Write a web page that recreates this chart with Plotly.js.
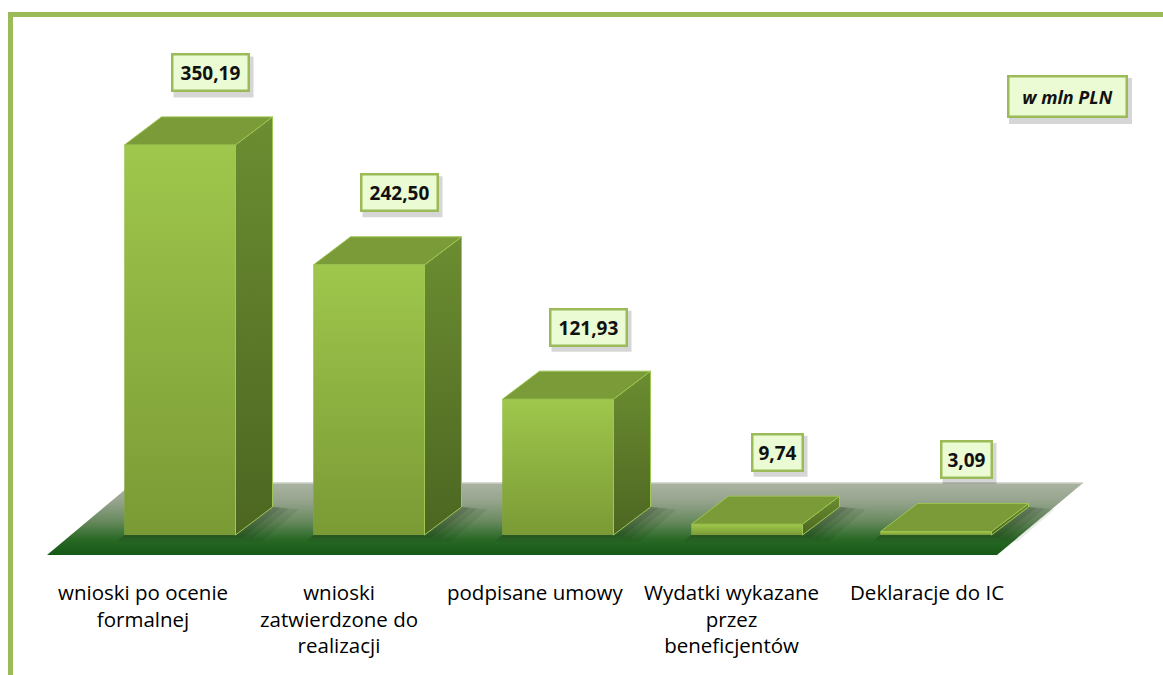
<!DOCTYPE html>
<html>
<head>
<meta charset="utf-8">
<script src="https://cdn.plot.ly/plotly-3.0.1.min.js"></script>
<style>
html,body{margin:0;padding:0;background:#fff;}
#chart{width:1163px;height:675px;}
</style>
</head>
<body>
<div id="chart"></div>
<script>
// ---- data ----
const categories = [
  'wnioski po ocenie<br>formalnej',
  'wnioski<br>zatwierdzone do<br>realizacji',
  'podpisane umowy',
  'Wydatki wykazane<br>przez<br>beneficjentów',
  'Deklaracje do IC'
];
const values = [350.19, 242.50, 121.93, 9.74, 3.09];
const valueLabels = ['350,19', '242,50', '121,93', '9,74', '3,09'];
const unitLabel = 'w mln PLN';

// ---- layout geometry (pixels) ----
const W = 1163, H = 675;
const PXX = 189;          // px per category step
const X_FIRST = 180;      // px of first bar centre
const PXY = 1.114;        // px per value unit
const BASE_PX = 535;      // px of value 0
const X0 = -X_FIRST / PXX, X1 = X0 + W / PXX;
const Y1 = BASE_PX / PXY, Y0 = Y1 - H / PXY;
const xd = px => X0 + px / PXX;
const yd = py => Y1 - py / PXY;
const BW = 111 / PXX;     // bar width
const DX = 37 / PXX;      // depth offset x
const DY = 28 / PXY;      // depth offset y

const traces = [];

// floor (main subplot, below bars)
const fl = [[47,555],[997,555],[1083,483],[133,483],[47,555]];
traces.push({
  type:'scatter', mode:'lines', xaxis:'x', yaxis:'y',
  x: fl.map(p=>xd(p[0])), y: fl.map(p=>yd(p[1])),
  fill:'toself', fillcolor:'#4f7a45',
  fillgradient:{type:'vertical', start:yd(555), stop:yd(483),
    colorscale:[[0,'#165816'],[0.22,'#2a6926'],[0.48,'#6a8b60'],[0.75,'#96a48d'],[1,'#aab3a2']]},
  line:{width:0, color:'rgba(0,0,0,0)'}, hoverinfo:'skip', showlegend:false
});
// back edge highlight of floor
traces.push({
  type:'scatter', mode:'lines', xaxis:'x', yaxis:'y',
  x:[xd(133), xd(1083)], y:[yd(483), yd(483)],
  line:{width:1.5, color:'#c9cfc4'}, hoverinfo:'skip', showlegend:false
});

// soft shadows on the floor, right of each bar and below its front edge
values.forEach((v,i)=>{
  const xl = i - BW/2, xr = i + BW/2;
  [[26,0.09],[16,0.11],[8,0.13]].forEach(([e,o])=>{
    const ex = e / PXX, ey = e / PXY;
    traces.push({
      type:'scatter', mode:'lines', xaxis:'x', yaxis:'y',
      x:[xl-ex*0.3, xr+ex, xr+DX+ex, xr+DX, xl, xl-ex*0.3],
      y:[-ey*0.25, -ey*0.25, DY-ey*0.1, DY, 0, -ey*0.25],
      fill:'toself', fillcolor:'rgba(15,35,10,'+o+')',
      line:{width:0,color:'rgba(0,0,0,0)'}, hoverinfo:'skip', showlegend:false
    });
  });
});

// front faces as bars (overlay subplot)
traces.push({
  type:'bar', xaxis:'x2', yaxis:'y2',
  x: values.map((v,i)=>i), y: values, width: BW, base: 0,
  marker:{color:'#8cb343', line:{width:0}},
  hoverinfo:'skip', showlegend:false
});

values.forEach((v,i)=>{
  const xl = i - BW/2, xr = i + BW/2;
  traces.push({
    type:'scatter', mode:'lines', xaxis:'x2', yaxis:'y2',
    x:[xl,xr,xr,xl,xl], y:[0,0,v,v,0],
    fill:'toself', fillcolor:'#8cb343',
    fillgradient:{type:'vertical', colorscale:[[0,'#7a9a35'],[1,'#9fc74c']]},
    line:{width:0,color:'rgba(0,0,0,0)'}, hoverinfo:'skip', showlegend:false
  });
  traces.push({
    type:'scatter', mode:'lines', xaxis:'x2', yaxis:'y2',
    x:[xr, xr+DX, xr+DX, xr, xr], y:[0, DY, v+DY, v, 0],
    fill:'toself', fillcolor:'#5e7d2b',
    fillgradient:{type:'vertical', colorscale:[[0,'#4c6621'],[1,'#6c8d31']]},
    line:{width:1,color:'#9fc853'}, hoverinfo:'skip', showlegend:false
  });
  traces.push({
    type:'scatter', mode:'lines', xaxis:'x2', yaxis:'y2',
    x:[xl, xr, xr+DX, xl+DX, xl], y:[v, v, v+DY, v+DY, v],
    fill:'toself', fillcolor:'#7a9b37',
    line:{width:1,color:'#9cc550'}, hoverinfo:'skip', showlegend:false
  });
});

const annotations = [];
const shapes = [];
const LBL_DX = 30, LBL_DY = 72, LBL_H = 26, LBL_PAD = 4, LBL_BW = 2.5;
values.forEach((v,i)=>{
  const w = 13*valueLabels[i].length - 12;
  const tw = w + 2*LBL_PAD + 2*LBL_BW, th = LBL_H + 2*LBL_PAD + 2*LBL_BW;
  shapes.push({type:'rect', xref:'x2', yref:'y2', xsizemode:'pixel', ysizemode:'pixel',
    xanchor:i, yanchor:v,
    x0:LBL_DX - tw/2 + 3, x1:LBL_DX + tw/2 + 4, y0:LBL_DY - th/2 - 5, y1:LBL_DY + th/2 - 3,
    fillcolor:'rgba(0,0,0,0.16)', line:{width:0}, layer:'above'});
  annotations.push({xref:'x2', yref:'y2', x:i, y:v, showarrow:false,
    text:'<b>'+valueLabels[i]+'</b>', xshift:LBL_DX, yshift:LBL_DY,
    width:w, height:LBL_H, align:'center', valign:'middle',
    font:{family:'Open Sans, Arial, sans-serif', size:19, color:'#111'},
    borderpad:LBL_PAD, borderwidth:LBL_BW, xanchor:'center', yanchor:'middle',
    bgcolor:'#ebfbd3', bordercolor:'#9bbb59'});
});
// unit box
const UX = 1067, UY = 97, UW = 106, UH = 28;
shapes.push({type:'rect', xref:'paper', yref:'paper',
  x0:(UX - UW/2 - 8 + 3)/W, x1:(UX + UW/2 + 8 + 4)/W,
  y0:1-(UY + UH/2 + 8 + 5)/H, y1:1-(UY - UH/2 - 8 + 3)/H,
  fillcolor:'rgba(0,0,0,0.16)', line:{width:0}, layer:'above'});
annotations.push({xref:'paper', yref:'paper', x:UX/W, y:1-UY/H, showarrow:false,
  text:'<b><i>'+unitLabel+'</i></b>', width:UW, height:UH, align:'center', valign:'middle',
  font:{family:'Open Sans, Arial, sans-serif', size:18, color:'#111'},
  borderpad:5, borderwidth:2.5, xanchor:'center', yanchor:'middle',
  bgcolor:'#ebfbd3', bordercolor:'#9bbb59'});
// category labels
categories.forEach((c,i)=>{
  annotations.push({
    xref:'paper', yref:'paper', x:(143 + 196*i)/W, y:1-576/H,
    xanchor:'center', yanchor:'top', align:'center', showarrow:false,
    text:c, font:{family:'Open Sans, Arial, sans-serif', size:20.5, color:'#000'}
  });
});
// frame
shapes.push(
  {type:'rect', xref:'paper', yref:'paper', x0:8/W, x1:13/W, y0:0, y1:1-12/H, fillcolor:'#9bbb59', line:{width:0}, layer:'above'},
  {type:'rect', xref:'paper', yref:'paper', x0:8/W, x1:1, y0:1-17/H, y1:1-12/H, fillcolor:'#9bbb59', line:{width:0}, layer:'above'}
);

const ax = {showgrid:false, zeroline:false, showticklabels:false, showline:false, ticks:'', fixedrange:true};
const layout = {
  width:W, height:H, autosize:false,
  margin:{l:0,r:0,t:0,b:0,pad:0},
  paper_bgcolor:'#ffffff', plot_bgcolor:'rgba(0,0,0,0)',
  showlegend:false, barmode:'overlay',
  xaxis:Object.assign({}, ax, {range:[X0,X1]}),
  yaxis:Object.assign({}, ax, {range:[Y0,Y1]}),
  xaxis2:Object.assign({}, ax, {range:[X0,X1], overlaying:'x'}),
  yaxis2:Object.assign({}, ax, {range:[Y0,Y1], overlaying:'y'}),
  annotations: annotations,
  shapes: shapes
};
Plotly.newPlot('chart', traces, layout, {displayModeBar:false, staticPlot:true});
</script>
</body>
</html>
